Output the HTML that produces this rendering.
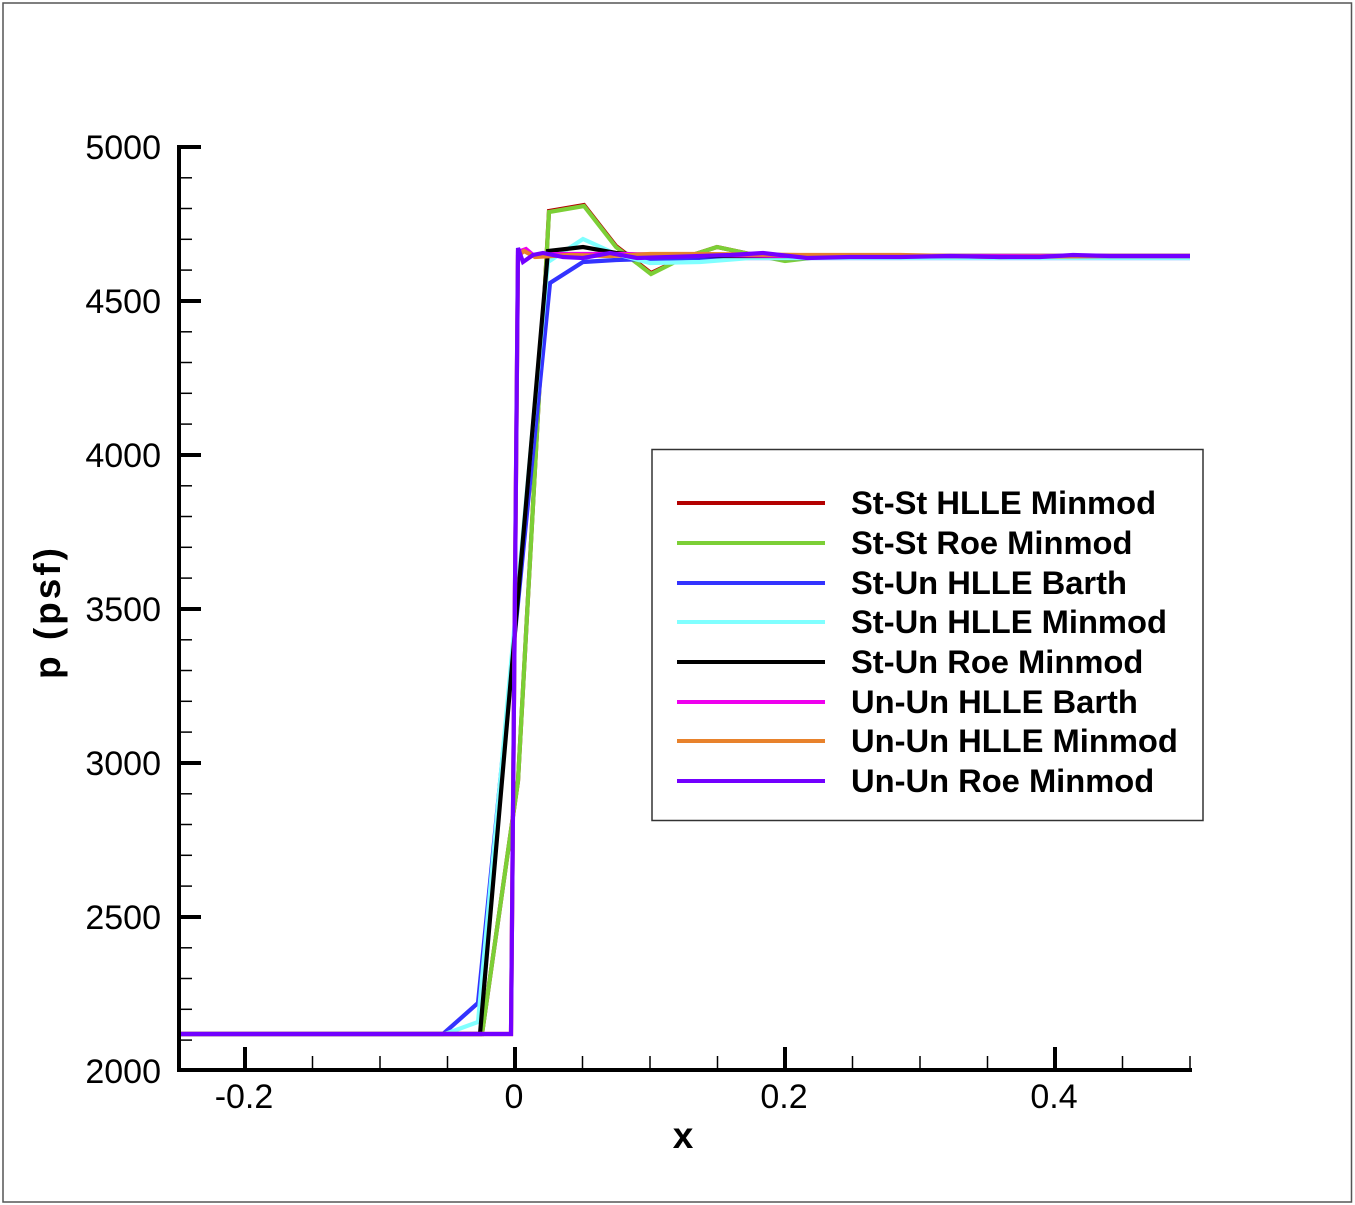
<!DOCTYPE html>
<html>
<head>
<meta charset="utf-8">
<style>
html,body{margin:0;padding:0;background:#fff;}
svg{display:block;}
text{font-family:"Liberation Sans",Arial,sans-serif;}
</style>
</head>
<body>
<svg width="1355" height="1205" viewBox="0 0 1355 1205" xmlns="http://www.w3.org/2000/svg">
<rect x="0" y="0" width="1355" height="1205" fill="#fff"/>
<rect x="3" y="3" width="1348.5" height="1199" fill="none" stroke="#555" stroke-width="1.5"/>

<!-- data series -->
<g fill="none" stroke-width="4.2" stroke-linejoin="miter" stroke-miterlimit="4">
<polyline stroke="#b30000" points="177,1034 482,1034 518,781 549,211 584,205 616,246 651,273 683,258 717,247 750,254 785,260 818,257 852,256 1190,256"/>
<polyline stroke="#7ccf36" points="177,1034 482,1034 518,781 549,212 584,206 616,247 651,274 683,258 717,247 750,254 785,261 818,257 852,256 1190,256"/>
<polyline stroke="#3333ff" points="177,1034 443,1034 478,1003 550,283 583,262 616,260 650,259 700,258 1190,258"/>
<polyline stroke="#80ffff" points="177,1034 445,1034 478,1022 548,262 583,239 616,254 650,263 700,262 750,258 1190,258"/>
<polyline stroke="#000" points="177,1034 480,1034 548,251 583,247 616,253 650,256 1190,256"/>
<polyline stroke="#ee00ee" points="177,1034 511,1034 518,252 526,249 533,255 560,254 620,254 700,255 800,256 1190,256"/>
<polyline stroke="#e8822c" points="177,1034 511,1034 518,256 524,251 535,257 570,255 610,256 650,254 700,254 800,255 900,255 1000,257 1100,256 1190,256"/>
<polyline stroke="#7300ff" points="177,1034 511,1034 518,248 523,262 533,255 543,253 563,257 583,258 610,253 637,258 670,257 700,256 730,255 763,253 807,258 850,257 900,257 950,256 1000,257 1040,257 1073,255 1110,256 1150,256 1190,256"/>
</g>

<!-- axes -->
<g stroke="#000" fill="none">
<line x1="179" y1="145" x2="179" y2="1072" stroke-width="4"/>
<line x1="177" y1="1070" x2="1192" y2="1070" stroke-width="4"/>
<g stroke-width="4">
<line x1="179" y1="147" x2="201" y2="147"/>
<line x1="179" y1="301" x2="201" y2="301"/>
<line x1="179" y1="455" x2="201" y2="455"/>
<line x1="179" y1="609" x2="201" y2="609"/>
<line x1="179" y1="763" x2="201" y2="763"/>
<line x1="179" y1="917" x2="201" y2="917"/>
<line x1="179" y1="1070" x2="201" y2="1070"/>
</g>
<g stroke-width="1.5">
<line x1="179" y1="177.8" x2="192" y2="177.8"/>
<line x1="179" y1="208.5" x2="192" y2="208.5"/>
<line x1="179" y1="239.3" x2="192" y2="239.3"/>
<line x1="179" y1="270.1" x2="192" y2="270.1"/>
<line x1="179" y1="331.8" x2="192" y2="331.8"/>
<line x1="179" y1="362.5" x2="192" y2="362.5"/>
<line x1="179" y1="393.3" x2="192" y2="393.3"/>
<line x1="179" y1="424.1" x2="192" y2="424.1"/>
<line x1="179" y1="485.8" x2="192" y2="485.8"/>
<line x1="179" y1="516.5" x2="192" y2="516.5"/>
<line x1="179" y1="547.3" x2="192" y2="547.3"/>
<line x1="179" y1="578.1" x2="192" y2="578.1"/>
<line x1="179" y1="639.8" x2="192" y2="639.8"/>
<line x1="179" y1="670.5" x2="192" y2="670.5"/>
<line x1="179" y1="701.3" x2="192" y2="701.3"/>
<line x1="179" y1="732.1" x2="192" y2="732.1"/>
<line x1="179" y1="793.8" x2="192" y2="793.8"/>
<line x1="179" y1="824.5" x2="192" y2="824.5"/>
<line x1="179" y1="855.3" x2="192" y2="855.3"/>
<line x1="179" y1="886.1" x2="192" y2="886.1"/>
<line x1="179" y1="947.8" x2="192" y2="947.8"/>
<line x1="179" y1="978.5" x2="192" y2="978.5"/>
<line x1="179" y1="1009.3" x2="192" y2="1009.3"/>
<line x1="179" y1="1040.1" x2="192" y2="1040.1"/>
</g>
<g stroke-width="4">
<line x1="245" y1="1070" x2="245" y2="1047"/>
<line x1="515" y1="1070" x2="515" y2="1047"/>
<line x1="785" y1="1070" x2="785" y2="1047"/>
<line x1="1055" y1="1070" x2="1055" y2="1047"/>
</g>
<g stroke-width="1.5">
<line x1="312.5" y1="1070" x2="312.5" y2="1056"/>
<line x1="380" y1="1070" x2="380" y2="1056"/>
<line x1="447.5" y1="1070" x2="447.5" y2="1056"/>
<line x1="582.5" y1="1070" x2="582.5" y2="1056"/>
<line x1="650" y1="1070" x2="650" y2="1056"/>
<line x1="717.5" y1="1070" x2="717.5" y2="1056"/>
<line x1="852.5" y1="1070" x2="852.5" y2="1056"/>
<line x1="920" y1="1070" x2="920" y2="1056"/>
<line x1="987.5" y1="1070" x2="987.5" y2="1056"/>
<line x1="1122.5" y1="1070" x2="1122.5" y2="1056"/>
<line x1="1190" y1="1070" x2="1190" y2="1056"/>
</g>
</g>

<!-- tick labels -->
<g font-size="34" fill="#000" text-anchor="end">
<text x="161" y="159">5000</text>
<text x="161" y="313">4500</text>
<text x="161" y="467">4000</text>
<text x="161" y="621">3500</text>
<text x="161" y="775">3000</text>
<text x="161" y="929">2500</text>
<text x="161" y="1083">2000</text>
</g>
<g font-size="34" fill="#000" text-anchor="middle">
<text x="244" y="1108">-0.2</text>
<text x="514" y="1108">0</text>
<text x="784" y="1108">0.2</text>
<text x="1054" y="1108">0.4</text>
</g>

<!-- axis titles -->
<text x="683" y="1148" font-size="37" font-weight="bold" text-anchor="middle">x</text>
<text transform="translate(60,612) rotate(-90)" font-size="37" font-weight="bold" text-anchor="middle" letter-spacing="3">p (psf)</text>

<!-- legend -->
<rect x="652" y="449.5" width="551" height="371" fill="#fff" stroke="#333" stroke-width="1.5"/>
<g stroke-width="4">
<line x1="677" y1="503" x2="825" y2="503" stroke="#b30000"/>
<line x1="677" y1="543" x2="825" y2="543" stroke="#7ccf36"/>
<line x1="677" y1="583" x2="825" y2="583" stroke="#3333ff"/>
<line x1="677" y1="622" x2="825" y2="622" stroke="#80ffff"/>
<line x1="677" y1="662" x2="825" y2="662" stroke="#000"/>
<line x1="677" y1="702" x2="825" y2="702" stroke="#ee00ee"/>
<line x1="677" y1="741" x2="825" y2="741" stroke="#e8822c"/>
<line x1="677" y1="781" x2="825" y2="781" stroke="#7300ff"/>
</g>
<g font-size="32.7" font-weight="bold" fill="#000">
<text x="851" y="514">St-St HLLE Minmod</text>
<text x="851" y="554">St-St Roe Minmod</text>
<text x="851" y="594">St-Un HLLE Barth</text>
<text x="851" y="633">St-Un HLLE Minmod</text>
<text x="851" y="673">St-Un Roe Minmod</text>
<text x="851" y="713">Un-Un HLLE Barth</text>
<text x="851" y="752">Un-Un HLLE Minmod</text>
<text x="851" y="792">Un-Un Roe Minmod</text>
</g>
</svg>
</body>
</html>
